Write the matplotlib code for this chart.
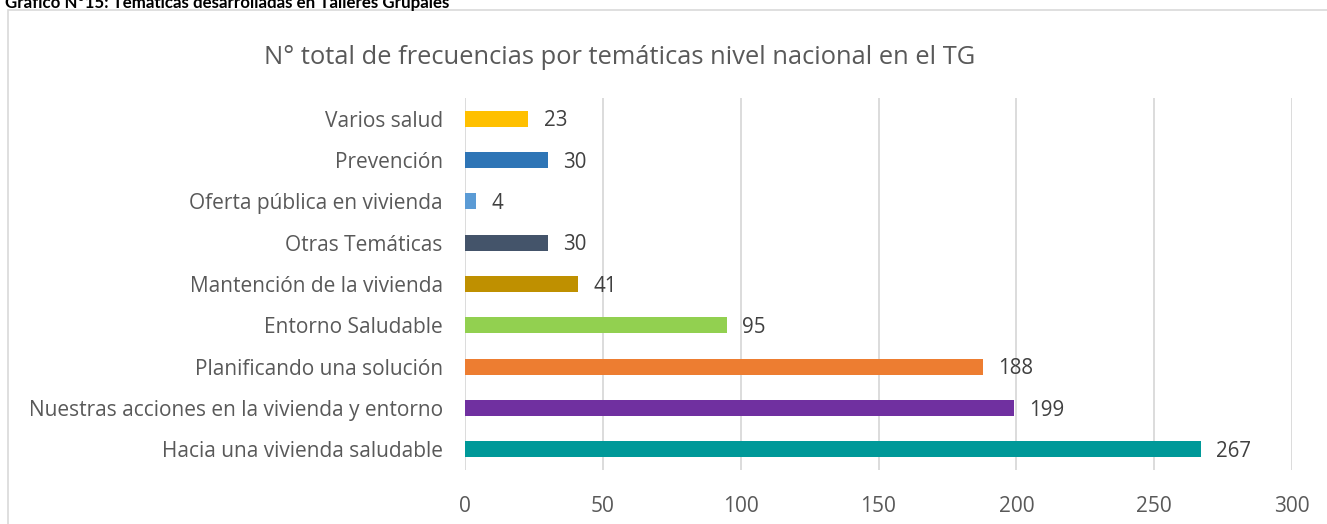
import matplotlib
matplotlib.use("Agg")
import matplotlib.pyplot as plt
from matplotlib.patches import Rectangle

categories = ["Hacia una vivienda saludable",
              "Nuestras acciones en la vivienda y entorno",
              "Planificando una solución",
              "Entorno Saludable",
              "Mantención de la vivienda",
              "Otras Temáticas",
              "Oferta pública en vivienda",
              "Prevención",
              "Varios salud"]
values = [267, 199, 188, 95, 41, 30, 4, 30, 23]
colors = ["#009999", "#7030A0", "#ED7D31", "#92D050", "#BF9000",
          "#44546A", "#5B9BD5", "#2E75B6", "#FFC000"]
xticks = [0, 50, 100, 150, 200, 250, 300]
title = "N° total de frecuencias por temáticas nivel nacional en el TG"
caption = "Gráfico N°15: Temáticas desarrolladas en Talleres Grupales"

plt.rcParams['font.family'] = ['Open Sans', 'DejaVu Sans']
W, H = 1327, 524
fig = plt.figure(figsize=(W/100, H/100), dpi=100)

# chart border
fig.patches.append(Rectangle((8/W, -0.1), 1.2, (524-10)/H + 0.1, transform=fig.transFigure,
                             fill=False, edgecolor="#D9D9D9", linewidth=1.2))
fig.text(5/W, 1 - 3/H, caption, fontsize=12.2, fontweight='bold', color='black',
         ha='left', va='center', family=['Lato', 'DejaVu Sans'])

ax = fig.add_axes([465/W, (524-470)/H, (1292-465)/W, (470-98)/H])
y = list(range(len(categories)))
bars = ax.barh(y, values, height=0.39, color=colors, zorder=3)
for yi, v in zip(y, values):
    ax.text(v + 5.5, yi - 0.05, str(v), va='center', ha='left', fontsize=14.8, color='#404040')

ax.set_xlim(0, 300)
ax.set_ylim(-0.5, len(categories) - 0.5)
ax.set_xticks(xticks)
ax.set_xticklabels([str(t) for t in xticks])
ax.set_yticks(y)
ax.set_yticklabels(categories)
ax.tick_params(axis='both', length=0, labelsize=15, labelcolor='#595959')
ax.tick_params(axis='x', pad=19)
ax.tick_params(axis='y', pad=16)
ax.grid(axis='x', color='#D9D9D9', linewidth=1.3, zorder=0)
for s in ax.spines.values():
    s.set_visible(False)
fig.text(620/W, (524-57)/H, title, fontsize=18.4, color='#595959', ha='center', va='center')

fig.savefig("out.png", dpi=100)
